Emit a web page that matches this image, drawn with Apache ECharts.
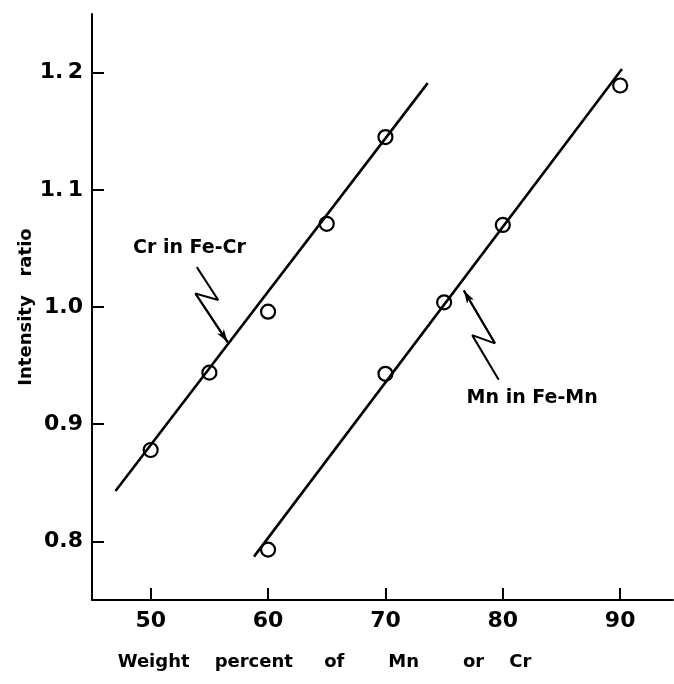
<!DOCTYPE html>
<html>
<head>
<meta charset="utf-8">
<script src="https://cdn.jsdelivr.net/npm/echarts@6/dist/echarts.min.js"></script>
<style>
  html, body { margin: 0; padding: 0; background: #fff; }
  #view { width: 674px; height: 684px; }
</style>
</head>
<body>
<div id="view"></div>
<script>
const crX = [50, 55, 60, 65, 70];
const crY = [0.878, 0.944, 0.996, 1.071, 1.145];
const mnX = [60, 70, 75, 80, 90];
const mnY = [0.793, 0.943, 1.004, 1.070, 1.189];

// drawn straight lines (end points)
const crLine = [[47.0, 0.843], [73.6, 1.191]];
const mnLine = [[58.8, 0.787], [90.15, 1.203]];

// zig-zag pointers, last point is the arrow tip
const crArrow = [[53.93, 1.034], [55.75, 1.006], [53.81, 1.0115], [56.56, 0.970]];
const mnArrow = [[79.65, 0.938], [77.39, 0.976], [79.33, 0.969], [76.68, 1.014]];

const crLabel = [53.3, 1.050];
const mnLabel = [82.5, 0.922];

const xTicks = [50, 60, 70, 80, 90];
const yTicks = [0.8, 0.9, 1.0, 1.1, 1.2];
const yTickText = { "0.8": "0.8", "0.9": "0.9", "1": "1.0", "1.1": "1.\u20091", "1.2": "1.\u20092" };

const font = "DejaVu Sans";

function zip(xs, ys) {
  return xs.map((x, i) => [x, ys[i]]);
}

function arrowSeries(path) {
  let n = path.length;
  return {
    type: "line",
    data: path,
    symbol: "none",
    silent: true,
    lineStyle: { color: "#000", width: 2 },
    markLine: {
      silent: true,
      symbol: ["none", "arrow"],
      symbolSize: [6, 13],
      label: { show: false },
      lineStyle: { color: "#000", width: 2, type: "solid" },
      data: [[{ coord: path[n - 2] }, { coord: path[n - 1] }]],
    },
  };
}

function textSeries(pos, text) {
  return {
    type: "scatter",
    data: [pos],
    symbolSize: 1,
    silent: true,
    itemStyle: { color: "rgba(0,0,0,0)", opacity: 1 },
    label: {
      show: true,
      position: "inside",
      formatter: text,
      color: "#000",
      fontFamily: font,
      fontWeight: "bold",
      fontSize: 19,
    },
  };
}

let myChart = echarts.init(document.getElementById("view"));

let lineStyle = { color: "#000", width: 2.6 };
let pointStyle = { color: "#fff", borderColor: "#000", borderWidth: 2.2, opacity: 1 };

let option = {
  backgroundColor: "#fff",
  animation: false,
  grid: { left: 92, right: 1, top: 14, bottom: 84, containLabel: false },
  xAxis: {
    type: "value",
    min: 45,
    max: 94.5,
    name: "Weight    percent     of       Mn       or    Cr",
    nameLocation: "middle",
    nameGap: 53,
    nameMoveOverlap: false,
    nameTextStyle: {
      color: "#000",
      fontFamily: font,
      fontWeight: "bold",
      fontSize: 18,
      padding: [0, 116, 0, 0],
    },
    axisLine: { lineStyle: { color: "#000", width: 2 } },
    axisTick: { inside: true, length: 12, customValues: xTicks, lineStyle: { color: "#000", width: 2 } },
    axisLabel: {
      customValues: xTicks,
      margin: 10,
      color: "#000",
      fontFamily: font,
      fontWeight: "bold",
      fontSize: 22,
    },
    splitLine: { show: false },
  },
  yAxis: {
    type: "value",
    min: 0.75,
    max: 1.25,
    name: "Intensity   ratio",
    nameLocation: "middle",
    nameGap: 57,
    nameMoveOverlap: false,
    nameTextStyle: { color: "#000", fontFamily: font, fontWeight: "bold", fontSize: 18 },
    axisLine: { show: true, lineStyle: { color: "#000", width: 2 } },
    axisTick: { show: true, inside: true, length: 12, customValues: yTicks, lineStyle: { color: "#000", width: 2 } },
    axisLabel: {
      customValues: yTicks,
      margin: 9,
      color: "#000",
      fontFamily: font,
      fontWeight: "bold",
      fontSize: 22,
      formatter: (v) => yTickText[String(Math.round(v * 10) / 10)] || v,
    },
    splitLine: { show: false },
  },
  series: [
    { type: "line", data: crLine, symbol: "none", silent: true, lineStyle: lineStyle },
    { type: "line", data: mnLine, symbol: "none", silent: true, lineStyle: lineStyle },
    arrowSeries(crArrow),
    arrowSeries(mnArrow),
    textSeries(crLabel, "Cr in Fe-Cr"),
    textSeries(mnLabel, "Mn in Fe-Mn"),
    { type: "scatter", name: "Cr in Fe-Cr", data: zip(crX, crY), symbol: "circle", symbolSize: 14, itemStyle: pointStyle },
    { type: "scatter", name: "Mn in Fe-Mn", data: zip(mnX, mnY), symbol: "circle", symbolSize: 14, itemStyle: pointStyle },
  ],
};
myChart.setOption(option);
</script>
</body>
</html>
